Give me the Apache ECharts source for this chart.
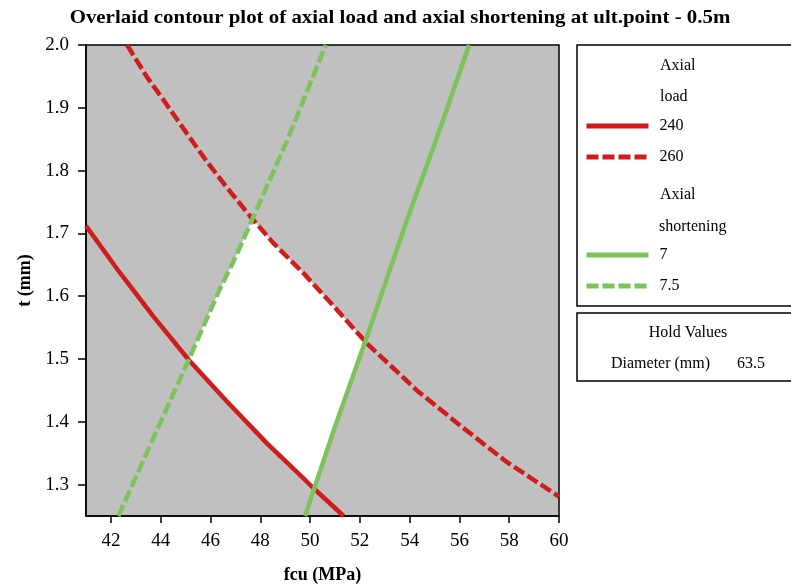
<!DOCTYPE html>
<html>
<head>
<meta charset="utf-8">
<script src="https://cdn.jsdelivr.net/npm/echarts@6/dist/echarts.min.js"></script>
<style>
html,body{margin:0;padding:0;background:#fff;}
#chart{width:791px;height:588px;}
</style>
</head>
<body>
<div id="chart"></div>
<script>
// ---- data (fcu MPa, t mm) ----
var load240 = [[41,1.712],[42.33,1.639],[43.68,1.569],[45.14,1.498],[46.69,1.431],[48.26,1.366],[49.60,1.315],[50.12,1.295],[51.35,1.25]];
var load260 = [[42.65,2.0],[43.45,1.949],[44.12,1.912],[44.93,1.866],[45.86,1.814],[46.66,1.773],[47.60,1.727],[48.54,1.684],[49.75,1.636],[51.0,1.582],[52.28,1.525],[54.29,1.450],[56.16,1.390],[57.90,1.336],[60,1.281]];
var short75 = [[42.3,1.25],[44.41,1.436],[45.15,1.501],[46.36,1.610],[47.03,1.664],[47.72,1.726],[49.08,1.848],[50.63,2.0]];
var short7 = [[49.8,1.25],[50.94,1.385],[52.28,1.535],[53.82,1.713],[55.29,1.874],[56.39,2.0]];
var xTicks = [42,44,46,48,50,52,54,56,58,60];
var yTicks = [1.3,1.4,1.5,1.6,1.7,1.8,1.9,2.0];
var xRange = [41,60];
var yRange = [1.25,2.0];
var holdName = 'Diameter (mm)';
var holdValue = '63.5';

// ---- helpers: piecewise-linear curves y(x) ----
function evalAt(c, x){
  for(var i=0;i<c.length-1;i++){
    var a=c[i], b=c[i+1];
    if(x>=a[0] && x<=b[0]){ var t=(x-a[0])/(b[0]-a[0]); return a[1]+t*(b[1]-a[1]); }
  }
  return null;
}
function intersect(c1, c2){
  var lo=Math.max(c1[0][0],c2[0][0]), hi=Math.min(c1[c1.length-1][0],c2[c2.length-1][0]);
  var xs=[lo,hi];
  c1.concat(c2).forEach(function(p){ if(p[0]>lo && p[0]<hi) xs.push(p[0]); });
  xs.sort(function(a,b){return a-b;});
  for(var i=0;i<xs.length-1;i++){
    var d0=evalAt(c1,xs[i])-evalAt(c2,xs[i]), d1=evalAt(c1,xs[i+1])-evalAt(c2,xs[i+1]);
    if(d0===0) return [xs[i],evalAt(c1,xs[i])];
    if(d0*d1<0){ var x=xs[i]+(xs[i+1]-xs[i])*d0/(d0-d1); return [x,evalAt(c1,x)]; }
  }
  return null;
}
function sub(c, x1, x2){
  var out=[[x1,evalAt(c,x1)]];
  var inner=c.filter(function(p){return p[0]>Math.min(x1,x2) && p[0]<Math.max(x1,x2);});
  if(x2<x1) inner=inner.slice().reverse();
  out=out.concat(inner);
  out.push([x2,evalAt(c,x2)]);
  return out;
}
var A=intersect(load240, short75), B=intersect(short75, load260), C=intersect(load260, short7), D=intersect(short7, load240);
var region = sub(short75, A[0], B[0]).concat(sub(load260, B[0], C[0]), sub(short7, C[0], D[0]), sub(load240, D[0], A[0]));

var RED='#cf1c1c', GREEN='#7cc459';
var FONT='"Liberation Serif","Times New Roman",serif';

var chart = echarts.init(document.getElementById('chart'), null, {renderer:'canvas'});
function lineSeries(name, data, color, dashed){
  return {type:'line', name:name, data:data, showSymbol:false, symbol:'none', smooth:false, z:3,
    lineStyle:{color:color, width:4.5, type: dashed?[12,4]:'solid', cap:'butt', join:'round'}, itemStyle:{color:color}, clip:true, animation:false};
}
var legendText = {fontFamily:FONT, fontSize:16, color:'#000', padding:[0,0,0,6]};
var legendCommon = {orient:'vertical', left:579, itemWidth:62, itemHeight:14, itemGap:15, textStyle:legendText, selectedMode:false,
  itemStyle:{color:'rgba(0,0,0,0)', borderWidth:0, opacity:0}, lineStyle:{width:5}};
chart.setOption({
  animation:false,
  grid:{left:86, right:232, top:45, bottom:72, outerBoundsMode:'none', containLabel:false, show:true, backgroundColor:'#c0c0c0', borderColor:'#000', borderWidth:1.5},
  xAxis:{type:'value', min:xRange[0], max:xRange[1], name:'fcu (MPa)', nameLocation:'middle', nameGap:50,
    nameTextStyle:{fontFamily:FONT, fontSize:18, fontWeight:'bold', color:'#000'},
    axisLine:{onZero:false, lineStyle:{color:'#000', width:1.5}},
    axisTick:{show:true, inside:false, length:7, customValues:xTicks, lineStyle:{color:'#000', width:1.5}},
    axisLabel:{customValues:xTicks, fontFamily:FONT, fontSize:19, color:'#000', margin:16},
    splitLine:{show:false}},
  yAxis:{type:'value', min:yRange[0], max:yRange[1], name:'t (mm)', nameLocation:'middle', nameGap:41,
    nameTextStyle:{fontFamily:FONT, fontSize:18, fontWeight:'bold', color:'#000'},
    axisLine:{onZero:false, lineStyle:{color:'#000', width:1.5}},
    axisTick:{show:true, inside:false, length:8, customValues:yTicks, lineStyle:{color:'#000', width:1.5}},
    axisLabel:{customValues:yTicks, fontFamily:FONT, fontSize:19, color:'#000', margin:17, formatter:function(v){return v.toFixed(1);}},
    splitLine:{show:false}},
  legend:[
    Object.assign({data:['240','260'], top:113}, legendCommon),
    Object.assign({data:['7','7.5'], top:242}, legendCommon)
  ],
  graphic:[
    {type:'text', x:400, y:18, scaleX:1.1, style:{text:'Overlaid contour plot of axial load and axial shortening at ult.point - 0.5m', fontFamily:FONT, fontSize:19, fontWeight:'bold', fill:'#000', align:'center', verticalAlign:'middle'}},
    {type:'rect', shape:{x:577, y:45, width:230, height:261}, style:{fill:'#fff', stroke:'#000', lineWidth:1.5}, z:-1},
    {type:'rect', shape:{x:577, y:313, width:230, height:68}, style:{fill:'#fff', stroke:'#000', lineWidth:1.5}, z:-1},
    {type:'text', x:660, y:66, style:{text:'Axial', fontFamily:FONT, fontSize:16, fill:'#000', verticalAlign:'middle'}},
    {type:'text', x:660, y:97, style:{text:'load', fontFamily:FONT, fontSize:16, fill:'#000', verticalAlign:'middle'}},
    {type:'text', x:660, y:195, style:{text:'Axial', fontFamily:FONT, fontSize:16, fill:'#000', verticalAlign:'middle'}},
    {type:'text', x:659, y:227, style:{text:'shortening', fontFamily:FONT, fontSize:16, fill:'#000', verticalAlign:'middle'}},
    {type:'text', x:688, y:333, style:{text:'Hold Values', fontFamily:FONT, fontSize:16, fill:'#000', align:'center', verticalAlign:'middle'}},
    {type:'text', x:611, y:364, style:{text:holdName, fontFamily:FONT, fontSize:16, fill:'#000', verticalAlign:'middle'}},
    {type:'text', x:737, y:364, style:{text:holdValue, fontFamily:FONT, fontSize:16, fill:'#000', verticalAlign:'middle'}}
  ],
  series:[
    {type:'custom', name:'region', silent:true, z:1, clip:true, data:[[A[0],A[1]]],
      renderItem:function(params, api){
        return {type:'polygon', shape:{points:region.map(function(p){return api.coord(p);})}, style:{fill:'#ffffff'}};
      }},
    lineSeries('240', load240, RED, false),
    lineSeries('260', load260, RED, true),
    lineSeries('7', short7, GREEN, false),
    lineSeries('7.5', short75, GREEN, true)
  ]
});
</script>
</body>
</html>
